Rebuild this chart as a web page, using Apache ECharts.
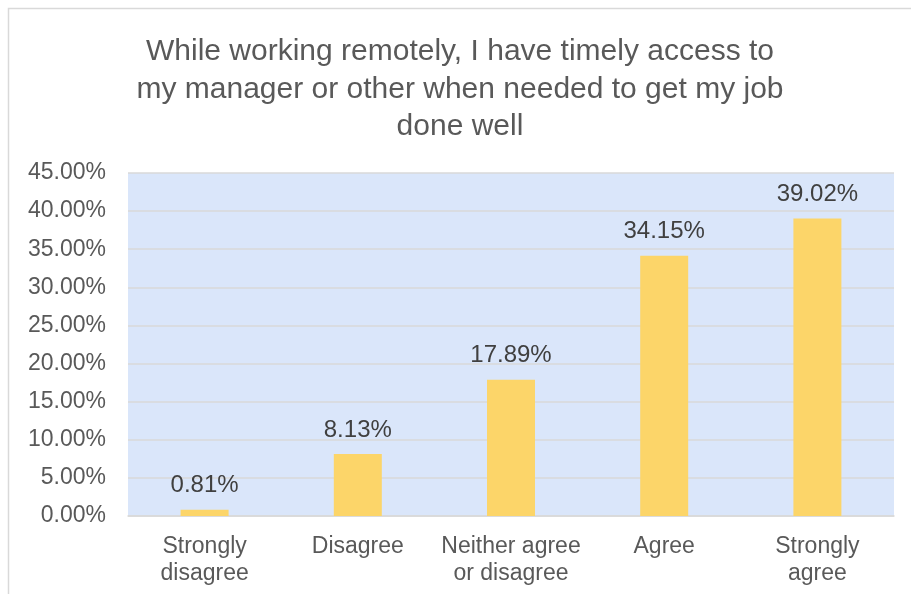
<!DOCTYPE html>
<html>
<head>
<meta charset="utf-8">
<script src="https://cdn.jsdelivr.net/npm/echarts@6/dist/echarts.min.js"></script>
<style>
  html, body { margin: 0; padding: 0; background: #ffffff; }
  #chart { width: 911px; height: 594px; }
</style>
</head>
<body>
<div id="chart"></div>
<script>
// Survey responses (share of respondents, %)
const categories = ['Strongly\ndisagree', 'Disagree', 'Neither agree\nor disagree', 'Agree', 'Strongly\nagree'];
const shares = [0.81, 8.13, 17.89, 34.15, 39.02];
const chartTitle = 'While working remotely, I have timely access to\nmy manager or other when needed to get my job\ndone well';

const chart = echarts.init(document.getElementById('chart'), null, { renderer: 'canvas' });
const FONT = '"Liberation Sans", Arial, sans-serif';

chart.setOption({
  backgroundColor: '#ffffff',
  animation: false,
  graphic: [{
    type: 'rect',
    shape: { x: 8.5, y: 8.5, width: 1200, height: 1200 },
    style: { fill: 'none', stroke: '#D9D9D9', lineWidth: 1.5 },
    silent: true,
    z: -10
  }],
  title: {
    text: chartTitle,
    left: 455,
    textAlign: 'center',
    top: 28,
    textStyle: {
      fontFamily: FONT,
      fontSize: 30,
      fontWeight: 'normal',
      color: '#595959',
      lineHeight: 37.5
    }
  },
  grid: {
    left: 128,
    right: 17,
    top: 173,
    bottom: 78,
    show: true,
    backgroundColor: '#DAE6FA',
    borderWidth: 0
  },
  xAxis: {
    type: 'category',
    data: categories,
    axisLine: { show: true, lineStyle: { color: '#D9D9D9', width: 1.5 } },
    axisTick: { show: false },
    axisLabel: {
      fontFamily: FONT,
      fontSize: 23,
      color: '#595959',
      lineHeight: 27,
      margin: 17,
      interval: 0
    }
  },
  yAxis: {
    type: 'value',
    min: 0,
    max: 45,
    interval: 5,
    axisLine: { show: false },
    axisTick: { show: false },
    splitLine: { lineStyle: { color: '#D9D9D9', width: 1.5 } },
    axisLabel: {
      fontFamily: FONT,
      fontSize: 23,
      color: '#595959',
      margin: 22,
      formatter: v => v.toFixed(2) + '%'
    }
  },
  series: [{
    type: 'bar',
    data: shares,
    barWidth: 48,
    itemStyle: { color: '#FCD569' },
    label: {
      show: true,
      position: 'top',
      distance: 12,
      fontFamily: FONT,
      fontSize: 24,
      color: '#404040',
      formatter: p => p.value.toFixed(2) + '%'
    }
  }]
});
</script>
</body>
</html>
